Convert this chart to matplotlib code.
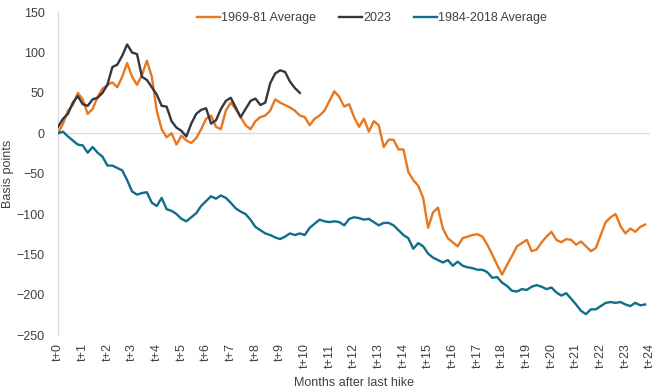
import numpy as np
import matplotlib
matplotlib.use('Agg')
import matplotlib.pyplot as plt

# ── Data (basis points, sampled every 0.2 month) ───────────
step = 0.2

avg_6981 = [
    0, 12, 28, 35, 50, 42, 24, 30, 45, 55,
    60, 63, 57, 70, 87, 70, 60, 72, 90, 70,
    28, 5, -5, 0, -14, -3, -9, -12, -6, 5,
    18, 22, 8, 5, 28, 38, 30, 20, 10, 5,
    15, 20, 22, 28, 42, 38, 35, 32, 28, 22,
    20, 10, 18, 22, 28, 40, 52, 45, 33, 36,
    20, 8, 18, 2, 15, 10, -17, -8, -8, -20,
    -20, -48, -58, -65, -80, -117, -98, -92, -118, -130,
    -135, -140, -130, -128, -126, -125, -128, -138, -150, -163,
    -175, -163, -152, -140, -136, -132, -146, -144, -135, -128,
    -122, -132, -135, -131, -132, -138, -134, -140, -146, -142,
    -126, -110, -104, -100, -115, -124, -118, -122, -116, -113,
]

y2023 = [
    8, 18, 24, 38, 46, 36, 34, 42, 44, 50,
    60, 82, 85, 96, 110, 100, 98, 70, 66, 57,
    48, 34, 33, 15, 7, 3, -4, 12, 24, 29,
    31, 12, 16, 30, 40, 44, 32, 20, 30, 40,
    43, 35, 38, 62, 74, 78, 76, 64, 56, 50,
]

avg_8418 = [
    0, 2, -4, -9, -14, -15, -24, -17, -24, -29,
    -40, -40, -43, -46, -58, -72, -76, -74, -73, -86,
    -90, -80, -94, -96, -100, -106, -109, -104, -99, -90,
    -84, -78, -81, -77, -80, -86, -93, -97, -100, -107,
    -116, -120, -124, -126, -129, -131, -128, -124, -126, -124,
    -126, -117, -112, -107, -109, -110, -109, -110, -114, -106,
    -104, -105, -107, -106, -110, -114, -111, -111, -114, -120,
    -126, -130, -143, -136, -140, -149, -154, -157, -160, -157,
    -164, -159, -164, -166, -167, -169, -169, -172, -179, -178,
    -185, -189, -195, -196, -193, -194, -190, -188, -190, -193,
    -191, -197, -201, -198, -205, -212, -220, -224, -218, -218,
    -214, -210, -209, -210, -209, -212, -214, -210, -213, -212,
]

months = list(range(0, 25))
month_labels = [f't+{m}' for m in months]

ORANGE = '#E8771E'
DARK = '#343741'
TEAL = '#0F6E8A'
TXT = '#404040'

plt.rcParams['font.family'] = ['Liberation Sans', 'DejaVu Sans']

fig = plt.figure(figsize=(6.6, 3.92), dpi=100)
ax = fig.add_axes([0.088, 0.145, 0.897, 0.824])

x1 = np.arange(len(avg_6981)) * step
x2 = np.arange(len(y2023)) * step
x3 = np.arange(len(avg_8418)) * step

ax.axhline(0, color='#D9D9D9', linewidth=0.9, zorder=1)
ax.plot(x1, avg_6981, color=ORANGE, linewidth=1.7, label='1969-81 Average', zorder=3)
ax.plot(x2, y2023, color=DARK, linewidth=1.7, label='2023', zorder=4)
ax.plot(x3, avg_8418, color=TEAL, linewidth=1.7, label='1984-2018 Average', zorder=3)

ax.set_xlim(0, 24)
ax.set_ylim(-250, 150)
ax.set_yticks(range(-250, 151, 50))
ax.set_xticks(months)
ax.set_xticklabels(month_labels, rotation=90)
ax.tick_params(axis='y', length=0, pad=9.5, labelsize=9, colors=TXT)
ax.tick_params(axis='x', length=0, pad=6, labelsize=9, colors=TXT)

for s in ['top', 'right', 'bottom']:
    ax.spines[s].set_visible(False)
ax.spines['left'].set_color('#D9D9D9')
ax.spines['left'].set_linewidth(0.9)

ax.set_xlabel('Months after last hike', fontsize=9, color=TXT, labelpad=6)
ax.set_ylabel('Basis points', fontsize=9, color=TXT, labelpad=2)

ax.legend(loc='upper center', bbox_to_anchor=(0.53, 1.035), ncol=3, frameon=False,
          fontsize=9, handlelength=1.85, handletextpad=0.1, columnspacing=1.8,
          labelcolor=TXT)

fig.savefig('out.png', dpi=100)
